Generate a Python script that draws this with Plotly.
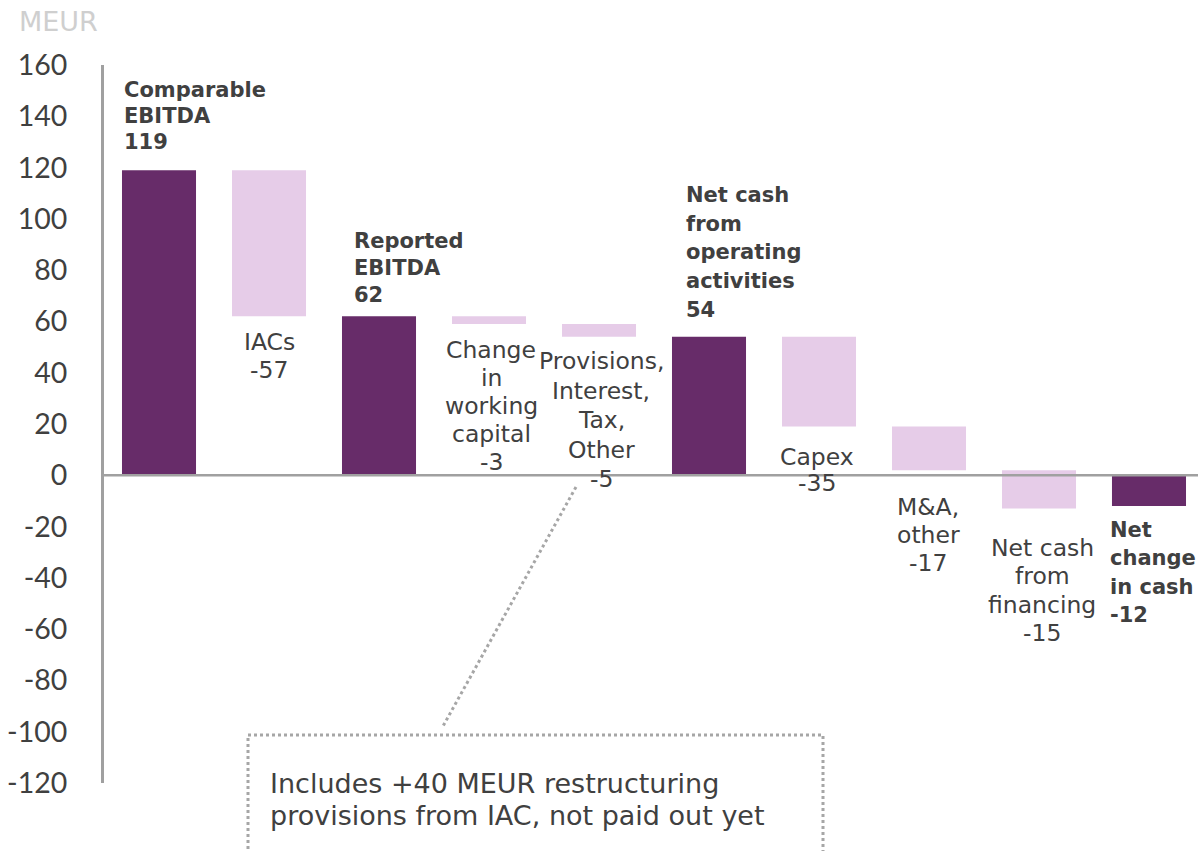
import plotly.graph_objects as go

# ---- data ----
categories = [
    "Comparable EBITDA", "IACs", "Reported EBITDA", "Change in working capital",
    "Provisions, Interest, Tax, Other", "Net cash from operating activities",
    "Capex", "M&A, other", "Net cash from financing", "Net change in cash",
]
values = [119, -57, 62, -3, -5, 54, -35, -17, -15, -12]
measures = ["absolute", "relative", "absolute", "relative", "relative",
            "absolute", "relative", "relative", "relative", "absolute"]
label_lines = [
    ["Comparable", "EBITDA"], ["IACs"], ["Reported", "EBITDA"],
    ["Change", "in", "working", "capital"],
    ["Provisions,", "Interest,", "Tax,", "Other"],
    ["Net cash", "from", "operating", "activities"],
    ["Capex"], ["M&A,", "other"], ["Net cash", "from", "financing"],
    ["Net", "change", "in cash"],
]
y_ticks = list(range(-120, 161, 20))
y_tick_text = [str(v) for v in y_ticks]
unit_label = "MEUR"
note_lines = ["Includes +40 MEUR restructuring", "provisions from IAC, not paid out yet"]

# ---- styling / layout ----
W, H = 1198, 851
ML, MR, MT, MB = 104, 0, 65, 68
PW, PH = W - ML - MR, H - MT - MB
SLOT = 110  # pixels per category

DARK = "#672C69"
LIGHT = "#E6CCE8"
TEXT = "#404040"
GREY = "#A6A6A6"
FONT = "DejaVu Sans, sans-serif"
TICK_FONT = "Lato, sans-serif"


def px(x):
    return (x - ML) / PW


def py(y):
    return (H - MB - y) / PH


# label placement: (x pixel, first line centre y, line step, anchor, bold)
label_place = [
    (122, 90, 26, "left", True),
    (269, 342, 28, "center", False),
    (352, 241, 27, "left", True),
    (491, 350, 28, "center", False),
    (601, 361, 29.5, "center", False),
    (684, 195, 28.7, "left", True),
    (817, 457, 26, "center", False),
    (928, 507, 28, "center", False),
    (1042, 548, 28.3, "center", False),
    (1108, 530, 28.3, "left", True),
]

fig = go.Figure(go.Waterfall(
    x=categories,
    y=values,
    measure=measures,
    width=0.673,
    connector=dict(visible=False),
    increasing=dict(marker=dict(color=LIGHT)),
    decreasing=dict(marker=dict(color=LIGHT)),
    totals=dict(marker=dict(color=DARK)),
    textinfo="none",
    showlegend=False,
))

annotations = []
for lines, val, (x, y0, step, anchor, bold) in zip(label_lines, values, label_place):
    for i, line in enumerate(lines + [str(val)]):
        txt = f"<b>{line}</b>" if bold else line
        annotations.append(dict(
            text=txt, xref="paper", yref="paper", x=px(x), y=py(y0 + i * step),
            xanchor=anchor, yanchor="middle", showarrow=False,
            font=dict(family=FONT, size=21 if bold else 23.5, color=TEXT),
        ))

annotations.append(dict(
    text=unit_label, xref="paper", yref="paper", x=px(17), y=py(21),
    xanchor="left", yanchor="middle", showarrow=False,
    font=dict(family=FONT, size=27, color="#CFCFCF"),
))
for i, line in enumerate(note_lines):
    annotations.append(dict(
        text=line, xref="paper", yref="paper", x=px(268), y=py(783 + i * 32),
        xanchor="left", yanchor="middle", showarrow=False,
        font=dict(family=FONT, size=27, color=TEXT),
    ))

shapes = [
    # zero line above the bars
    dict(type="line", xref="paper", yref="y", x0=0, x1=1, y0=0, y1=0,
         line=dict(color="#A0A0A0", width=2.5), layer="above"),
    # callout box and connector
    dict(type="rect", xref="paper", yref="paper", x0=px(248), x1=px(823),
         y0=py(735), y1=py(880), line=dict(color=GREY, width=3, dash="dot")),
    dict(type="line", xref="paper", yref="paper", x0=px(576), y0=py(487),
         x1=px(442), y1=py(728), line=dict(color=GREY, width=3, dash="dot")),
]

fig.update_layout(
    width=W, height=H,
    margin=dict(l=ML, r=MR, t=MT, b=MB),
    paper_bgcolor="white", plot_bgcolor="white",
    annotations=annotations, shapes=shapes,
    xaxis=dict(range=[-0.5, -0.5 + PW / SLOT], showticklabels=False,
               showline=False, showgrid=False, zeroline=False, ticks=""),
    yaxis=dict(range=[-120, 160], tickvals=y_ticks, ticktext=y_tick_text,
               showgrid=False, zeroline=False, showline=True,
               linecolor="#A0A0A0", linewidth=3,
               ticks="", ticklabelstandoff=28,
               tickfont=dict(family=TICK_FONT, size=28.5, color=TEXT)),
)

fig.write_html("out.html")
